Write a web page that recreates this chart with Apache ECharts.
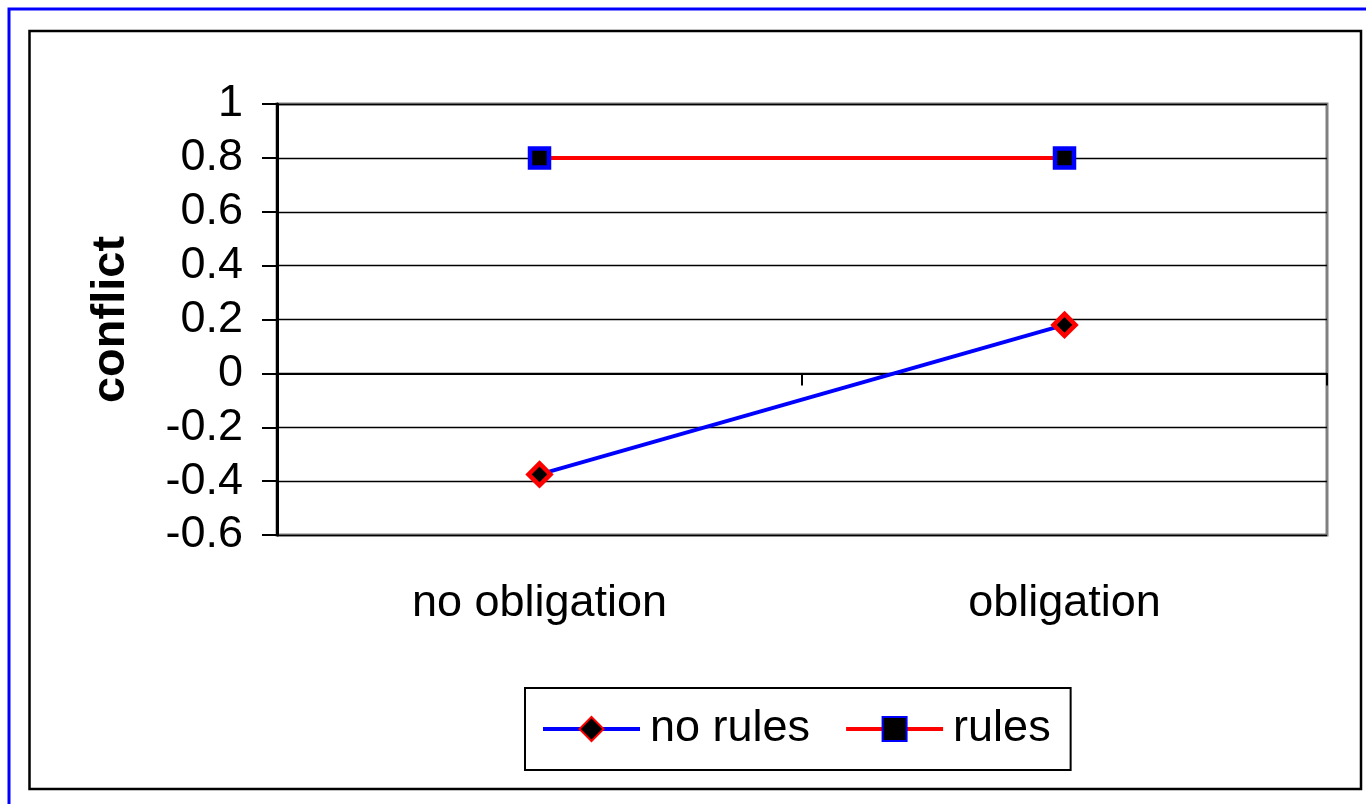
<!DOCTYPE html>
<html>
<head>
<meta charset="utf-8">
<script src="https://cdn.jsdelivr.net/npm/echarts@6/dist/echarts.min.js"></script>
<style>
html,body{margin:0;padding:0;background:#fff;}
#c{width:1366px;height:804px;}
</style>
</head>
<body>
<div id="c"></div>
<script>
const categories = ['no obligation', 'obligation'];
const noRules = [-0.375, 0.18];
const rules = [0.8, 0.8];
const seriesNames = ['no rules', 'rules'];
const yTicks = { min: -0.6, max: 1, interval: 0.2 };

const FONT = '"Liberation Sans", Arial, sans-serif';
const chart = echarts.init(document.getElementById('c'), null, { renderer: 'canvas' });

chart.setOption({
  backgroundColor: '#fff',
  animation: false,
  textStyle: { fontFamily: FONT, color: '#000' },
  graphic: [
    { type: 'rect', shape: { x: 9, y: 9, width: 1400, height: 900 }, style: { fill: 'none', stroke: '#0000ff', lineWidth: 3 }, silent: true },
    { type: 'rect', shape: { x: 29.5, y: 31, width: 1331.5, height: 758 }, style: { fill: 'none', stroke: '#000', lineWidth: 2.5 }, silent: true }
  ],
  grid: {
    left: 277, right: 39, top: 104, bottom: 269,
    show: true, borderColor: '#808080', borderWidth: 3, backgroundColor: 'transparent'
  },
  legend: {
    left: 525, top: 688,
    data: seriesNames,
    orient: 'horizontal',
    itemWidth: 97, itemHeight: 30, itemGap: 34,
    padding: [13, 20, 13, 16],
    borderColor: '#000', borderWidth: 2, borderRadius: 0,
    lineStyle: { width: 4 },
    textStyle: { fontSize: 45, fontFamily: FONT, color: '#000', lineHeight: 56, padding: [0, 0, 0, 5] }
  },
  xAxis: [
    {
      type: 'category', data: categories, boundaryGap: true,
      axisLine: { onZero: true, lineStyle: { color: '#000', width: 2 } },
      axisTick: { show: true, inside: false, length: 12, lineStyle: { color: '#000', width: 2 } },
      axisLabel: { show: false },
      splitLine: { show: false }
    },
    {
      type: 'category', data: categories, boundaryGap: true, position: 'bottom',
      axisLine: { show: false, onZero: false },
      axisTick: { show: false },
      axisLabel: { show: true, fontSize: 45, fontFamily: FONT, color: '#000', margin: 46 },
      splitLine: { show: false }
    }
  ],
  yAxis: {
    type: 'value', min: yTicks.min, max: yTicks.max, interval: yTicks.interval,
    name: 'conflict', nameLocation: 'middle', nameGap: 142, nameRotate: 90,
    nameTextStyle: { fontSize: 47, fontWeight: 'bold', fontFamily: FONT, color: '#000' },
    axisLine: { show: true, lineStyle: { color: '#000', width: 3 } },
    axisTick: { show: true, inside: false, length: 15, lineStyle: { color: '#000', width: 2 } },
    axisLabel: {
      fontSize: 45, fontFamily: FONT, color: '#000', margin: 34,
      formatter: v => String(Math.round(v * 10) / 10)
    },
    splitLine: { show: true, lineStyle: { color: '#000', width: 1.3 } }
  },
  series: [
    {
      name: seriesNames[0], type: 'line', xAxisIndex: 0, data: noRules,
      symbol: 'diamond', symbolSize: 22,
      lineStyle: { color: '#0000ff', width: 4 },
      itemStyle: { color: '#000', borderColor: '#ff0000', borderWidth: 4.5 },
      z: 5
    },
    {
      name: seriesNames[1], type: 'line', xAxisIndex: 0, data: rules,
      symbol: 'rect', symbolSize: 19,
      lineStyle: { color: '#ff0000', width: 4 },
      itemStyle: { color: '#000', borderColor: '#0000ff', borderWidth: 4.5 },
      z: 5
    }
  ]
});
</script>
</body>
</html>
